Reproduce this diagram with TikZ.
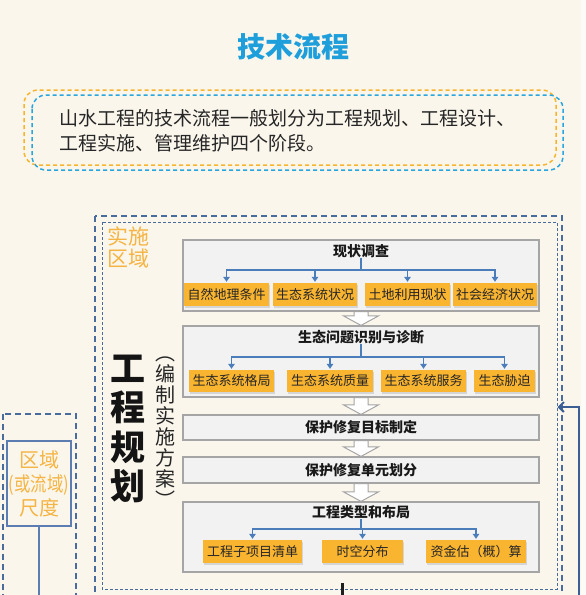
\documentclass[tikz,border=0pt]{standalone}
\usepackage{fontspec}
\usepackage{graphicx}
\usetikzlibrary{arrows.meta,shadows,calc}
\setmainfont{Noto Sans CJK SC}
\IfFontExistsTF{FandolSong-Regular.otf}{\newfontfamily\songti{FandolSong-Regular.otf}}{\newfontfamily\songti{Noto Sans CJK SC}}
\definecolor{bg}{HTML}{FAF6EC}
\definecolor{titleblue}{HTML}{1E9FDB}
\definecolor{dashorange}{HTML}{F7B52E}
\definecolor{dashblue}{HTML}{2AA6DF}
\definecolor{frame}{HTML}{4A6C9C}
\definecolor{frametwo}{HTML}{5B7DB1}
\definecolor{boxgray}{HTML}{F2F2F2}
\definecolor{boxline}{HTML}{A5A5A5}
\definecolor{orangebox}{HTML}{F9B430}
\definecolor{labelorange}{HTML}{F5B443}
\definecolor{branch}{HTML}{4A7DBA}
\definecolor{loopblue}{HTML}{3B5E95}
\definecolor{textdark}{HTML}{262626}
\tikzset{
  graybox/.style={draw=boxline, fill=boxgray, line width=1.2pt, inner sep=0pt, minimum width=356pt,
    drop shadow={shadow xshift=1pt, shadow yshift=-1pt, opacity=0.2}},
  obox/.style={fill=orangebox, inner sep=0pt, minimum height=23pt, text=textdark,
    font=\songti\fontsize{13}{13}\selectfont,
    drop shadow={shadow xshift=1pt, shadow yshift=-1.5pt, opacity=0.25}},
  boxtitle/.style={inner sep=0pt, text=black!90, font=\bfseries\fontsize{14}{14}\selectfont},
  branchline/.style={draw=branch, line width=1.2pt},
  brancharrow/.style={branchline, -{Triangle[length=5pt,width=6.5pt]}, shorten >=1pt},
  hollow/.style={draw=boxline, fill=white, line width=1pt, line join=miter},
  bigdash/.style={draw=frame, line width=1.5pt, dash pattern=on 6pt off 4pt},
  smalldash/.style={draw=frame, line width=0.8pt, dash pattern=on 3pt off 2pt},
  introdash/.style={line width=1.5pt, dash pattern=on 4pt off 3pt, rounded corners=14pt}
}
\newcommand{\harrow}[2]{%
  \draw[hollow] ($(#1.south)+(-7,0)$) -- ($(#1.south)+(7,0)$) -- ($(#2.north)+(7,-9.5)$)
    -- ($(#2.north)+(17.5,-9.5)$) -- (#2.north) -- ($(#2.north)+(-17.5,-9.5)$)
    -- ($(#2.north)+(-7,-9.5)$) -- cycle;}
\begin{document}
\begin{tikzpicture}[x=1pt,y=-1pt]
\useasboundingbox (0,0) rectangle (586,595);
\begin{scope}
\clip (0,0) rectangle (586,595);
\fill[bg] (0,0) rectangle (586,595);
\fill[white!60!bg] (581,0) rectangle (586,595);

% title and intro
\node[font=\bfseries\fontsize{28}{28}\selectfont, text=titleblue] (title) at (293,47) {技术流程};
\draw[introdash, dashorange] (24,90) rectangle (556,165);
\draw[introdash, dashblue] (32,95) rectangle (563,170);
\node[anchor=west, align=left, inner sep=0pt, font=\fontsize{19}{25}\selectfont, text=textdark] (intro)
  at (59,130.5) {山水工程的技术流程一般划分为工程规划、工程设计、\\工程实施、管理维护四个阶段。};

% frames
\draw[bigdash] (95,216) rectangle (562,610);
\draw[smalldash] (102,222) rectangle (557,589);
\draw[bigdash] (3,414) rectangle (76,610);

% labels
\node[anchor=north west, inner sep=0pt, align=left, font=\songti\fontsize{21}{22}\selectfont, text=labelorange] (zone)
  at (107,227) {实施\\区域};
\node[align=center, inner sep=0pt, text=black!92, font=\bfseries\fontsize{35}{39.3}\selectfont] (plan)
  at (128,429) {工\\程\\规\\划};
\node[align=center, inner sep=0pt, text=black!85, font=\fontsize{20}{21}\selectfont] (sub)
  at (165,432.5) {︵\\编\\制\\实\\施\\方\\案\\︶};

% step 1
\node[graybox, minimum height=71pt] (b1) at (361,275.5) {};
\node[boxtitle] (t1) at (361,251) {现状调查};
\coordinate (h1) at (361,270);
\node[obox, minimum width=85pt] (o11) at (226.5,294.5) {自然地理条件};
\node[obox, minimum width=84pt] (o12) at (315,294.5) {生态系统状况};
\node[obox, minimum width=85pt] (o13) at (407.5,294.5) {土地利用现状};
\node[obox, minimum width=84pt] (o14) at (495,294.5) {社会经济状况};
\draw[branchline] (t1.south) -- (h1);
\foreach \o in {o11,o12,o13,o14} \draw[brancharrow] (h1) -| (\o.north);

% step 2
\node[graybox, minimum height=71pt] (b2) at (361,361.5) {};
\node[boxtitle] (t2) at (361,337) {生态问题识别与诊断};
\coordinate (h2) at (361,357);
\node[obox, minimum width=85pt, minimum height=22pt] (o21) at (231.5,381) {生态系统格局};
\node[obox, minimum width=86pt, minimum height=22pt] (o22) at (330,381) {生态系统质量};
\node[obox, minimum width=85pt, minimum height=22pt] (o23) at (423.5,381) {生态系统服务};
\node[obox, minimum width=61pt, minimum height=22pt] (o24) at (504.5,381) {生态胁迫};
\draw[branchline] (t2.south) -- (h2);
\foreach \o in {o21,o22,o23,o24} \draw[brancharrow] (h2) -| (\o.north);

% step 3, 4
\node[graybox, minimum height=25pt, font=\bfseries\fontsize{14}{14}\selectfont, text=black!90] (b3) at (361,427.5) {保护修复目标制定};
\node[graybox, minimum height=26pt, font=\bfseries\fontsize{14}{14}\selectfont, text=black!90] (b4) at (361,470) {保护修复单元划分};

% step 5
\node[graybox, minimum height=70pt] (b5) at (361,537) {};
\node[boxtitle] (t5) at (361,512) {工程类型和布局};
\coordinate (h5) at (361,529);
\node[obox, minimum width=99pt] (o51) at (252.5,551.5) {工程子项目清单};
\node[obox, minimum width=81pt] (o52) at (362.5,551.5) {时空分布};
\node[obox, minimum width=100pt] (o53) at (476,551.5) {资金估（概）算};
\draw[branchline] (t5.south) -- (h5);
\foreach \o in {o51,o52,o53} \draw[brancharrow] (h5) -| (\o.north);

% hollow arrows
\harrow{b1}{b2}
\harrow{b2}{b3}
\harrow{b3}{b4}
\harrow{b4}{b5}

% left scale box
\node[draw=frametwo, line width=1.2pt, minimum width=64pt, minimum height=85pt, inner sep=0pt, align=center,
  text=labelorange, font=\songti\fontsize{20}{24}\selectfont] (scale) at (39,483.5)
  {区域\\\scalebox{0.82}[1]{(或流域)}\\尺度};
\coordinate (scaleend) at (39,600);
\draw[frametwo, line width=1.2pt] (scale.south) -- (scaleend);

% loop arrow and bottom line
\coordinate (loopstart) at (579,600);
\coordinate (loopend) at (557.5,407);
\draw[loopblue, line width=2pt, -{Straight Barb[length=5pt,width=10pt]}] (loopstart) |- (loopend);
\coordinate (downa) at (342,583);
\coordinate (downb) at (342,600);
\draw[line width=3pt, black!88] (downa) -- (downb);
\end{scope}
\end{tikzpicture}
\end{document}
